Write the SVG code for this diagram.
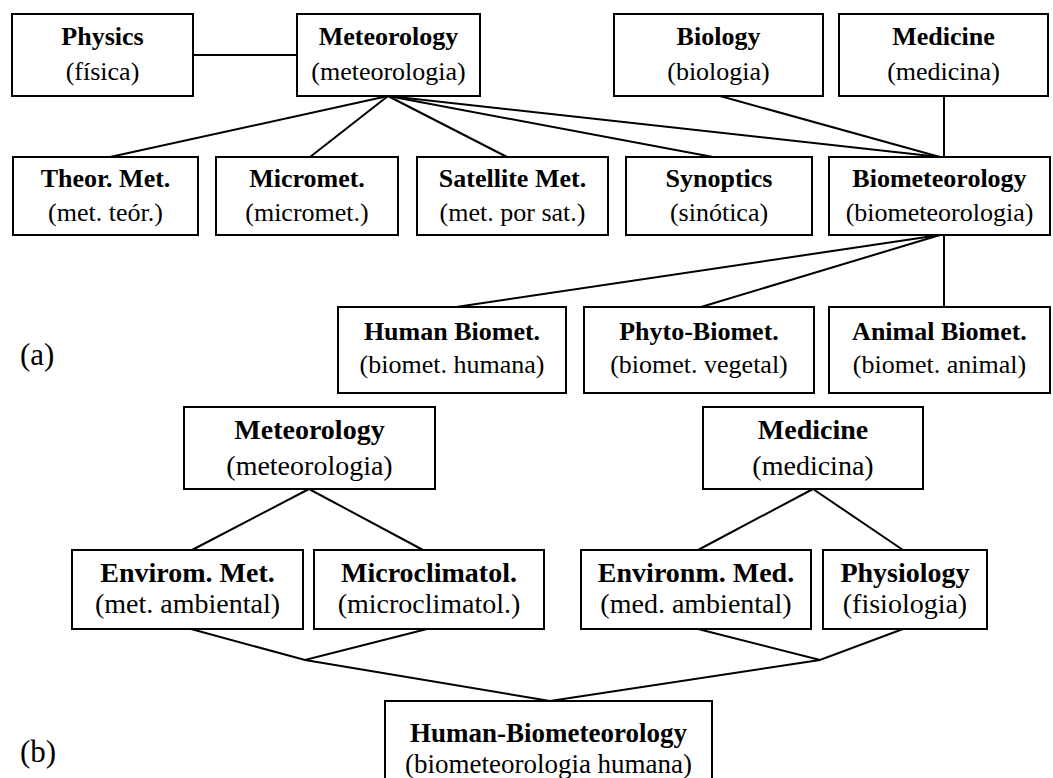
<svg xmlns="http://www.w3.org/2000/svg" width="1053" height="778" viewBox="0 0 1053 778">
<style>
.box{fill:#fff;stroke:#000;stroke-width:2}
.ln{stroke:#000;stroke-width:2;fill:none}
text{font-family:"Liberation Serif","Times New Roman",serif;fill:#000}
.t{font-size:26px;font-weight:bold;text-anchor:middle}
.s{font-size:26px;text-anchor:middle}
.tb{font-size:28px;font-weight:bold;text-anchor:middle}
.sb{font-size:28px;text-anchor:middle}
.tc{font-size:27px;font-weight:bold;text-anchor:middle}
.sc{font-size:27px;text-anchor:middle}
.lab{font-size:31px}
</style>
<rect width="1053" height="778" fill="#fff"/>
<g id="connectors">
<line class="ln" x1="193" y1="55" x2="297" y2="55"/>
<line class="ln" x1="388" y1="96" x2="110" y2="157"/>
<line class="ln" x1="388" y1="96" x2="310" y2="157"/>
<line class="ln" x1="388" y1="96" x2="507" y2="157"/>
<line class="ln" x1="388" y1="96" x2="713" y2="157"/>
<line class="ln" x1="388" y1="96" x2="940" y2="157"/>
<line class="ln" x1="720" y1="96" x2="940" y2="157"/>
<line class="ln" x1="944" y1="96" x2="944" y2="157"/>
<line class="ln" x1="940" y1="235" x2="456" y2="307"/>
<line class="ln" x1="940" y1="235" x2="701" y2="307"/>
<line class="ln" x1="944" y1="235" x2="944" y2="307"/>
<line class="ln" x1="309" y1="489" x2="192" y2="550"/>
<line class="ln" x1="309" y1="489" x2="423" y2="550"/>
<line class="ln" x1="813" y1="489" x2="698" y2="550"/>
<line class="ln" x1="813" y1="489" x2="903" y2="550"/>
<polyline class="ln" points="191,629 305,660 427,629"/>
<polyline class="ln" points="698,629 820,660 903,629"/>
<polyline class="ln" points="305,660 550,701 820,660"/>
</g>
<g id="physics"><rect class="box" x="12" y="14" width="181" height="82"/><text class="t" x="102.5" y="45">Physics</text><text class="s" x="102.5" y="80">(física)</text></g>
<g id="meteorology"><rect class="box" x="297" y="14" width="183" height="82"/><text class="t" x="388.5" y="45">Meteorology</text><text class="s" x="388.5" y="80">(meteorologia)</text></g>
<g id="biology"><rect class="box" x="614" y="14" width="209" height="82"/><text class="t" x="718.5" y="45">Biology</text><text class="s" x="718.5" y="80">(biologia)</text></g>
<g id="medicine"><rect class="box" x="839" y="14" width="209" height="82"/><text class="t" x="943.5" y="45">Medicine</text><text class="s" x="943.5" y="80">(medicina)</text></g>
<g id="theor"><rect class="box" x="13" y="157" width="185" height="78"/><text class="t" x="105.5" y="187">Theor. Met.</text><text class="s" x="105.5" y="221">(met. teór.)</text></g>
<g id="micromet"><rect class="box" x="216" y="157" width="182" height="78"/><text class="t" x="307" y="187">Micromet.</text><text class="s" x="307" y="221">(micromet.)</text></g>
<g id="satellite"><rect class="box" x="417" y="157" width="191" height="78"/><text class="t" x="512.5" y="187">Satellite Met.</text><text class="s" x="512.5" y="221">(met. por sat.)</text></g>
<g id="synoptics"><rect class="box" x="626" y="157" width="186" height="78"/><text class="t" x="719" y="187">Synoptics</text><text class="s" x="719" y="221">(sinótica)</text></g>
<g id="biometeorology"><rect class="box" x="829" y="157" width="221" height="78"/><text class="t" x="939.5" y="187">Biometeorology</text><text class="s" x="939.5" y="221">(biometeorologia)</text></g>
<g id="human"><rect class="box" x="338" y="307" width="228" height="86"/><text class="t" x="452" y="340">Human Biomet.</text><text class="s" x="452" y="373">(biomet. humana)</text></g>
<g id="phyto"><rect class="box" x="584" y="307" width="230" height="86"/><text class="t" x="699" y="340">Phyto-Biomet.</text><text class="s" x="699" y="373">(biomet. vegetal)</text></g>
<g id="animal"><rect class="box" x="829" y="307" width="221" height="86"/><text class="t" x="939.5" y="340">Animal Biomet.</text><text class="s" x="939.5" y="373">(biomet. animal)</text></g>
<text class="lab" x="20" y="365">(a)</text>
<g id="b-meteorology"><rect class="box" x="184" y="407" width="251" height="82"/><text class="tb" x="309.5" y="439">Meteorology</text><text class="sb" x="309.5" y="475">(meteorologia)</text></g>
<g id="b-medicine"><rect class="box" x="703" y="407" width="220" height="82"/><text class="tb" x="813" y="439">Medicine</text><text class="sb" x="813" y="475">(medicina)</text></g>
<g id="envirom"><rect class="box" x="72" y="550" width="231" height="79"/><text class="tb" x="187.5" y="582">Envirom. Met.</text><text class="sb" x="187.5" y="613">(met. ambiental)</text></g>
<g id="microclimatol"><rect class="box" x="314" y="550" width="230" height="79"/><text class="tb" x="429" y="582">Microclimatol.</text><text class="sb" x="429" y="613">(microclimatol.)</text></g>
<g id="environm-med"><rect class="box" x="581" y="550" width="230" height="79"/><text class="tb" x="696" y="582">Environm. Med.</text><text class="sb" x="696" y="613">(med. ambiental)</text></g>
<g id="physiology"><rect class="box" x="823" y="550" width="164" height="79"/><text class="tb" x="905" y="582">Physiology</text><text class="sb" x="905" y="613">(fisiologia)</text></g>
<g id="human-biomet"><rect class="box" x="385" y="701" width="327" height="100"/><text class="tc" x="548.5" y="742">Human-Biometeorology</text><text class="sc" x="548.5" y="773">(biometeorologia humana)</text></g>
<text class="lab" x="20" y="762">(b)</text>
</svg>
